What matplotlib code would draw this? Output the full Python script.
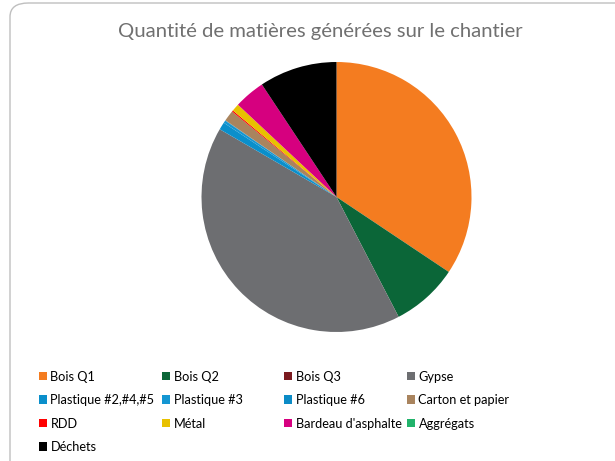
import matplotlib
matplotlib.use("Agg")
import matplotlib.pyplot as plt
from matplotlib.patches import FancyBboxPatch, Patch

categories = ["Bois Q1", "Bois Q2", "Bois Q3", "Gypse", "Plastique #2,#4,#5",
              "Plastique #3", "Plastique #6", "Carton et papier", "RDD", "Métal",
              "Bardeau d'asphalte", "Aggrégats", "Déchets"]
values = [34.3, 8.0, 0.0, 40.9, 0.9, 0.3, 0.05, 1.3, 0.15, 0.9, 3.7, 0.0, 9.3]
colors = ["#F47C20", "#0B6638", "#7B1A1F", "#6D6E71", "#0A8FCB", "#1496D2",
          "#0B8BC6", "#A9845E", "#FF0000", "#E8C100", "#D6007F", "#21B36B", "#000000"]
title = "Quantité de matières générées sur le chantier"

plt.rcParams['font.family'] = ['Lato', 'DejaVu Sans']

fig = plt.figure(figsize=(6.15, 4.61), dpi=100)
fig.patch.set_facecolor("white")

# chart frame
frame = FancyBboxPatch((10/615, -20/461), 640/615, (461-3+20)/461,
                       boxstyle="round,pad=0,rounding_size=0.03",
                       transform=fig.transFigure, facecolor="white",
                       edgecolor="#BFBFBF", linewidth=1.0, zorder=0)
fig.add_artist(frame)

fig.text(320.5/615, 1 - 31/461, title, ha="center", va="center",
         fontsize=14.6, color="#707070")

ax = fig.add_axes([(336.5-135)/615, (461-332)/461, 270/615, 270/461])
ax.pie(values, colors=colors, startangle=90, counterclock=False,
       wedgeprops=dict(linewidth=0))
ax.set_xlim(-1, 1)
ax.set_ylim(-1, 1)
ax.set_aspect("equal")
ax.axis("off")

# legend: Excel fills rows first, 4 columns
ncol = 4
col_x = [39/615, 162/615, 284/615, 407/615]
for c in range(ncol):
    idx = list(range(c, len(categories), ncol))
    handles = [Patch(facecolor=colors[i], edgecolor="none") for i in idx]
    labels = [categories[i] for i in idx]
    leg = fig.legend(handles, labels, loc="upper left",
                     bbox_to_anchor=(col_x[c], 1 - 370.5/461),
                     frameon=False, fontsize=9.2, handlelength=0.62,
                     handleheight=0.62, handletextpad=0.28, labelspacing=0.9,
                     borderpad=0, borderaxespad=0)
    for t in leg.get_texts():
        t.set_color("#000000")

fig.savefig("out.png", dpi=100)
